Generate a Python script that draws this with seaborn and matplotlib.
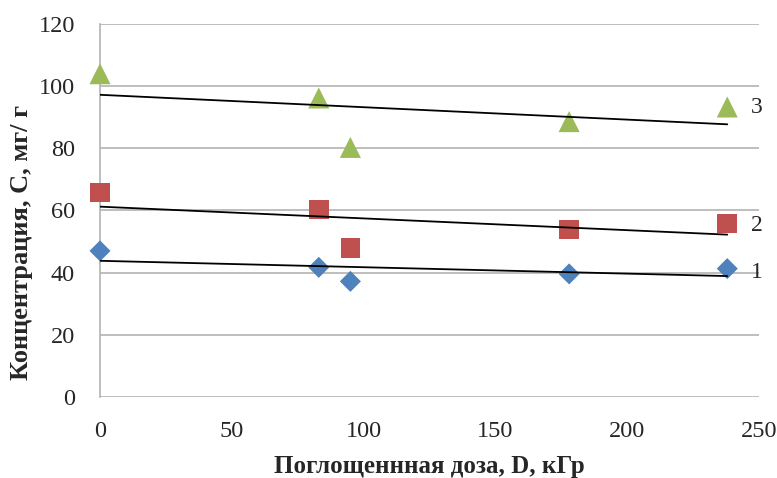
import numpy as np
import matplotlib
matplotlib.use("Agg")
import matplotlib.pyplot as plt
import pandas as pd
import seaborn as sns

# dose, kGy
dose = [0, 83, 95, 178, 238]
# concentration, mg/g
conc_1 = [47, 41.7, 37.2, 39.6, 41.3]
conc_2 = [65.8, 60.3, 47.9, 53.9, 55.8]
conc_3 = [104, 96.2, 80.3, 88.6, 93.3]
curve_names = ["1", "2", "3"]

colors = ["#4F81BD", "#C0504D", "#9BBB59"]
markers = ["D", "s", "^"]
sizes = [115, 200, 230]

sns.set_style("white")
plt.rcParams['font.family'] = ['Liberation Serif', 'DejaVu Serif']

fig = plt.figure(figsize=(7.77, 4.78), dpi=100)
ax = fig.add_axes([0.1287, 0.1695, 0.848, 0.7803])

series = [conc_1, conc_2, conc_3]
for vals, col, mk, sz in zip(series, colors, markers, sizes):
    df = pd.DataFrame({'D': dose, 'C': vals})
    sns.scatterplot(data=df, x='D', y='C', marker=mk, s=sz, color=col,
                    edgecolor='none', ax=ax, zorder=3, clip_on=False)

# linear trend lines
for vals in series:
    df = pd.DataFrame({'D': dose, 'C': vals})
    sns.regplot(data=df, x='D', y='C', scatter=False, ci=None, truncate=True,
                color='black', line_kws={'linewidth': 1.3, 'zorder': 4}, ax=ax)

# curve numbers at the right end
label_y = [40.2, 55.3, 93]
for name, yy in zip(curve_names, label_y):
    ax.text(247, yy, name, fontsize=17, ha='left', va='center')

ax.set_xlim(0, 250)
ax.set_ylim(0, 120)
ax.set_xticks(range(0, 251, 50))
ax.set_yticks(range(0, 121, 20))
ax.yaxis.grid(True, color='#B3B3B3', linewidth=1.2)
ax.set_axisbelow(True)
for s in ['top', 'right', 'bottom']:
    ax.spines[s].set_visible(False)
ax.spines['left'].set_color('#B3B3B3')
ax.spines['left'].set_linewidth(1.2)
ax.tick_params(axis='both', length=0, labelsize=17.5)
ax.tick_params(axis='x', pad=17)
ax.tick_params(axis='y', pad=18)

ax.set_xlabel('Поглощеннная доза, D, кГр', fontsize=18, fontweight='bold', labelpad=10)
ax.set_ylabel('Концентрация, С, мг/ г', fontsize=19, fontweight='bold')
ax.yaxis.set_label_coords(-0.102, 0.415)

plt.savefig('out.png', dpi=100)
